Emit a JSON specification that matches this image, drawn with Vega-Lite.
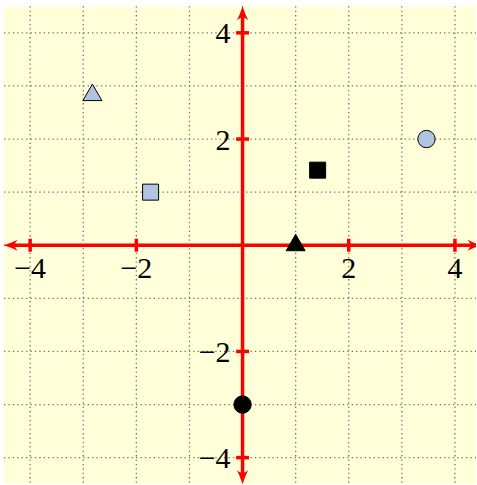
{
  "$schema": "https://vega.github.io/schema/vega-lite/v6.json",
  "autosize": "none",
  "padding": {"left": 3.6, "top": 6.3, "right": 0, "bottom": 0},
  "width": 472.6,
  "height": 477.9,
  "background": "white",
  "config": {
    "view": {"stroke": null, "fill": "#ffffd9"},
    "axis": {"disable": true},
    "legend": {"disable": true}
  },
  "datasets": {
    "grid": [{"g": -4}, {"g": -3}, {"g": -2}, {"g": -1}, {"g": 0}, {"g": 1}, {"g": 2}, {"g": 3}, {"g": 4}],
    "axes": [
      {"x": -4.4, "x2": 4.4, "y": 0, "y2": 0},
      {"x": 0, "x2": 0, "y": -4.4, "y2": 4.4}
    ],
    "ticks": [
      {"v": -4, "label": "−4"},
      {"v": -2, "label": "−2"},
      {"v": 2, "label": "2"},
      {"v": 4, "label": "4"}
    ],
    "arrows": [
      {"x": 4.5, "y": 0, "dir": "right"},
      {"x": -4.5, "y": 0, "dir": "left"},
      {"x": 0, "y": 4.5, "dir": "up"},
      {"x": 0, "y": -4.5, "dir": "down"}
    ],
    "points": [
      {"x": -2.828, "y": 2.828, "shape": "triangle", "style": "open"},
      {"x": -1.732, "y": 1.0, "shape": "square", "style": "open"},
      {"x": 3.464, "y": 2.0, "shape": "circle", "style": "open"},
      {"x": 1.414, "y": 1.414, "shape": "square", "style": "solid"},
      {"x": 1.0, "y": 0.0, "shape": "triangle", "style": "solid"},
      {"x": 0.0, "y": -3.0, "shape": "circle", "style": "solid"}
    ]
  },
  "layer": [
    {
      "data": {"name": "grid"},
      "mark": {"type": "rule", "color": "#707070", "strokeWidth": 1.3, "strokeDash": [1.3, 3.1]},
      "encoding": {
        "x": {"field": "g", "type": "quantitative", "scale": {"domain": [-4.5, 4.4], "nice": false, "zero": false}}
      }
    },
    {
      "data": {"name": "grid"},
      "mark": {"type": "rule", "color": "#707070", "strokeWidth": 1.3, "strokeDash": [1.3, 3.1]},
      "encoding": {
        "y": {"field": "g", "type": "quantitative", "scale": {"domain": [-4.5, 4.5], "nice": false, "zero": false}}
      }
    },
    {
      "data": {"name": "axes"},
      "mark": {"type": "rule", "color": "#ff0000", "strokeWidth": 3.5},
      "encoding": {
        "x": {"field": "x", "type": "quantitative", "scale": {"domain": [-4.5, 4.4], "nice": false, "zero": false}},
        "x2": {"field": "x2"},
        "y": {"field": "y", "type": "quantitative", "scale": {"domain": [-4.5, 4.5], "nice": false, "zero": false}},
        "y2": {"field": "y2"}
      }
    },
    {
      "data": {"name": "ticks"},
      "mark": {"type": "rule", "color": "#ff0000", "strokeWidth": 3.5, "yOffset": -6.5, "y2Offset": 6.5},
      "encoding": {
        "x": {"field": "v", "type": "quantitative", "scale": {"domain": [-4.5, 4.4], "nice": false, "zero": false}},
        "y": {"datum": 0, "type": "quantitative", "scale": {"domain": [-4.5, 4.5], "nice": false, "zero": false}},
        "y2": {"datum": 0}
      }
    },
    {
      "data": {"name": "ticks"},
      "mark": {"type": "rule", "color": "#ff0000", "strokeWidth": 3.5, "xOffset": -6.5, "x2Offset": 6.5},
      "encoding": {
        "y": {"field": "v", "type": "quantitative", "scale": {"domain": [-4.5, 4.5], "nice": false, "zero": false}},
        "x": {"datum": 0, "type": "quantitative", "scale": {"domain": [-4.5, 4.4], "nice": false, "zero": false}},
        "x2": {"datum": 0}
      }
    },
    {
      "data": {"name": "ticks"},
      "mark": {"type": "text", "font": "Liberation Serif", "fontSize": 30, "color": "#000000", "align": "center", "baseline": "middle", "dy": 24},
      "encoding": {
        "x": {"field": "v", "type": "quantitative", "scale": {"domain": [-4.5, 4.4], "nice": false, "zero": false}},
        "y": {"datum": 0, "type": "quantitative", "scale": {"domain": [-4.5, 4.5], "nice": false, "zero": false}},
        "text": {"field": "label"}
      }
    },
    {
      "data": {"name": "ticks"},
      "mark": {"type": "text", "font": "Liberation Serif", "fontSize": 30, "color": "#000000", "align": "right", "baseline": "middle", "dx": -12, "dy": 1.5},
      "encoding": {
        "y": {"field": "v", "type": "quantitative", "scale": {"domain": [-4.5, 4.5], "nice": false, "zero": false}},
        "x": {"datum": 0, "type": "quantitative", "scale": {"domain": [-4.5, 4.4], "nice": false, "zero": false}},
        "text": {"field": "label"}
      }
    },
    {
      "data": {"name": "arrows"},
      "transform": [{"filter": "datum.dir === 'right'"}],
      "mark": {"type": "point", "shape": "M0,0Q-0.9,0.25 -2,0.8Q-1.2,0 -2,-0.8Q-0.9,-0.25 0,0Z", "size": 196, "filled": true, "color": "#ff0000", "opacity": 1, "angle": 0},
      "encoding": {
        "x": {"field": "x", "type": "quantitative", "scale": {"domain": [-4.5, 4.4], "nice": false, "zero": false}},
        "y": {"field": "y", "type": "quantitative", "scale": {"domain": [-4.5, 4.5], "nice": false, "zero": false}}
      }
    },
    {
      "data": {"name": "arrows"},
      "transform": [{"filter": "datum.dir === 'left'"}],
      "mark": {"type": "point", "shape": "M0,0Q-0.9,0.25 -2,0.8Q-1.2,0 -2,-0.8Q-0.9,-0.25 0,0Z", "size": 196, "filled": true, "color": "#ff0000", "opacity": 1, "angle": 180},
      "encoding": {
        "x": {"field": "x", "type": "quantitative", "scale": {"domain": [-4.5, 4.4], "nice": false, "zero": false}},
        "y": {"field": "y", "type": "quantitative", "scale": {"domain": [-4.5, 4.5], "nice": false, "zero": false}}
      }
    },
    {
      "data": {"name": "arrows"},
      "transform": [{"filter": "datum.dir === 'up'"}],
      "mark": {"type": "point", "shape": "M0,0Q-0.9,0.25 -2,0.8Q-1.2,0 -2,-0.8Q-0.9,-0.25 0,0Z", "size": 196, "filled": true, "color": "#ff0000", "opacity": 1, "angle": 270},
      "encoding": {
        "x": {"field": "x", "type": "quantitative", "scale": {"domain": [-4.5, 4.4], "nice": false, "zero": false}},
        "y": {"field": "y", "type": "quantitative", "scale": {"domain": [-4.5, 4.5], "nice": false, "zero": false}}
      }
    },
    {
      "data": {"name": "arrows"},
      "transform": [{"filter": "datum.dir === 'down'"}],
      "mark": {"type": "point", "shape": "M0,0Q-0.9,0.25 -2,0.8Q-1.2,0 -2,-0.8Q-0.9,-0.25 0,0Z", "size": 196, "filled": true, "color": "#ff0000", "opacity": 1, "angle": 90},
      "encoding": {
        "x": {"field": "x", "type": "quantitative", "scale": {"domain": [-4.5, 4.4], "nice": false, "zero": false}},
        "y": {"field": "y", "type": "quantitative", "scale": {"domain": [-4.5, 4.5], "nice": false, "zero": false}}
      }
    },
    {
      "data": {"name": "points"},
      "transform": [{"filter": "datum.shape === 'triangle'"}],
      "mark": {"type": "point", "shape": "M0,-1.155L1,0.577L-1,0.577Z", "size": 361, "filled": true, "stroke": "#000000", "strokeWidth": 1, "opacity": 1},
      "encoding": {
        "x": {"field": "x", "type": "quantitative", "scale": {"domain": [-4.5, 4.4], "nice": false, "zero": false}},
        "y": {"field": "y", "type": "quantitative", "scale": {"domain": [-4.5, 4.5], "nice": false, "zero": false}},
        "fill": {"field": "style", "type": "nominal", "scale": {"domain": ["open", "solid"], "range": ["#b0c4de", "#000000"]}}
      }
    },
    {
      "data": {"name": "points"},
      "transform": [{"filter": "datum.shape === 'square'"}],
      "mark": {"type": "point", "shape": "square", "size": 256, "filled": true, "stroke": "#000000", "strokeWidth": 1, "opacity": 1},
      "encoding": {
        "x": {"field": "x", "type": "quantitative", "scale": {"domain": [-4.5, 4.4], "nice": false, "zero": false}},
        "y": {"field": "y", "type": "quantitative", "scale": {"domain": [-4.5, 4.5], "nice": false, "zero": false}},
        "fill": {"field": "style", "type": "nominal", "scale": {"domain": ["open", "solid"], "range": ["#b0c4de", "#000000"]}}
      }
    },
    {
      "data": {"name": "points"},
      "transform": [{"filter": "datum.shape === 'circle'"}],
      "mark": {"type": "point", "shape": "circle", "size": 303, "filled": true, "stroke": "#000000", "strokeWidth": 1, "opacity": 1},
      "encoding": {
        "x": {"field": "x", "type": "quantitative", "scale": {"domain": [-4.5, 4.4], "nice": false, "zero": false}},
        "y": {"field": "y", "type": "quantitative", "scale": {"domain": [-4.5, 4.5], "nice": false, "zero": false}},
        "fill": {"field": "style", "type": "nominal", "scale": {"domain": ["open", "solid"], "range": ["#b0c4de", "#000000"]}}
      }
    }
  ]
}
